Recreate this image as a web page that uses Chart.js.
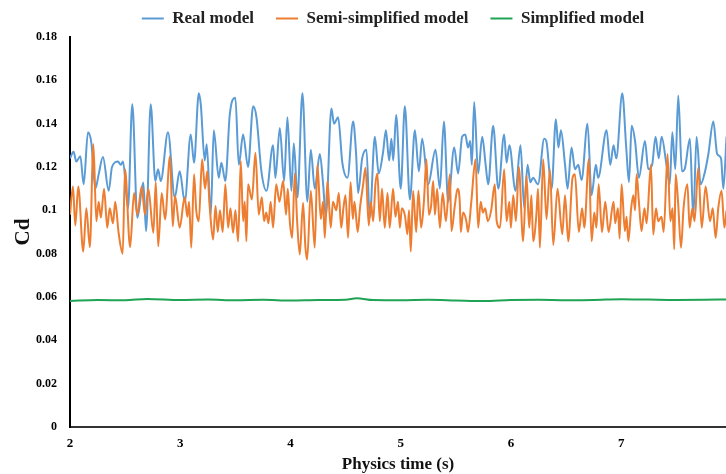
<!DOCTYPE html>
<html>
<head>
<meta charset="utf-8">
<script src="https://cdn.jsdelivr.net/npm/chart.js@4"></script>
<style>
  body { margin: 0; background: #fff; }
</style>
</head>
<body>
<canvas id="chart" width="726" height="474"></canvas>
<script>
const seriesNames = ["Real model", "Semi-simplified model", "Simplified model"];

const xTicks = [2, 3, 4, 5, 6, 7];
const yTicks = [0, 0.02, 0.04, 0.06, 0.08, 0.1, 0.12, 0.14, 0.16, 0.18];
const yTickLabels = ["0", "0.02", "0.04", "0.06", "0.08", "0.1", "0.12", "0.14", "0.16", "0.18"];

// Real model
const realTime = [
  2.000, 2.033, 2.057, 2.094, 2.124, 2.163, 2.194, 2.230, 2.260, 2.299,
  2.351, 2.381, 2.436, 2.460, 2.481, 2.526, 2.565, 2.611, 2.665, 2.690,
  2.732, 2.774, 2.799, 2.823, 2.889, 2.950, 2.995, 3.041, 3.095, 3.125,
  3.168, 3.186, 3.222, 3.240, 3.277, 3.304, 3.349, 3.373, 3.409, 3.449,
  3.500, 3.531, 3.570, 3.615, 3.661, 3.691, 3.736, 3.782, 3.842, 3.863,
  3.903, 3.942, 3.972, 4.008, 4.030, 4.063, 4.108, 4.153, 4.184, 4.220,
  4.266, 4.296, 4.320, 4.371, 4.395, 4.432, 4.470, 4.517, 4.568, 4.595,
  4.613, 4.650, 4.689, 4.719, 4.765, 4.800, 4.840, 4.865, 4.895, 4.915,
  4.932, 4.958, 5.000, 5.037, 5.083, 5.128, 5.164, 5.194, 5.249, 5.315,
  5.355, 5.391, 5.430, 5.485, 5.520, 5.557, 5.585, 5.610, 5.630, 5.645,
  5.666, 5.702, 5.739, 5.770, 5.793, 5.838, 5.885, 5.938, 5.960, 5.985,
  6.041, 6.086, 6.120, 6.150, 6.175, 6.200, 6.245, 6.301, 6.320, 6.368,
  6.407, 6.430, 6.453, 6.490, 6.513, 6.549, 6.580, 6.610, 6.640, 6.694,
  6.731, 6.770, 6.790, 6.867, 6.900, 6.930, 6.955, 7.009, 7.045, 7.070,
  7.094, 7.125, 7.160, 7.215, 7.245, 7.280, 7.311, 7.340, 7.366, 7.410,
  7.440, 7.463, 7.490, 7.517, 7.550, 7.575, 7.623, 7.653, 7.683, 7.720,
  7.760, 7.790, 7.835, 7.870, 7.905, 7.926, 7.955
];
const realCd = [
  0.124, 0.127, 0.1225, 0.125, 0.112, 0.136, 0.131, 0.110, 0.1166, 0.1246,
  0.109, 0.120, 0.1225, 0.121, 0.1225, 0.101, 0.149, 0.0966, 0.1128, 0.0904,
  0.149, 0.1135, 0.119, 0.1135, 0.136, 0.106, 0.118, 0.104, 0.135, 0.122,
  0.154, 0.149, 0.123, 0.1305, 0.098, 0.137, 0.115, 0.122, 0.1135, 0.144,
  0.152, 0.121, 0.135, 0.120, 0.148, 0.143, 0.118, 0.109, 0.130, 0.115,
  0.138, 0.1135, 0.143, 0.109, 0.131, 0.106, 0.154, 0.104, 0.128, 0.110,
  0.126, 0.112, 0.097, 0.147, 0.140, 0.143, 0.122, 0.115, 0.141, 0.126,
  0.108, 0.124, 0.128, 0.0966, 0.134, 0.117, 0.127, 0.137, 0.123, 0.133,
  0.123, 0.144, 0.110, 0.148, 0.105, 0.137, 0.118, 0.133, 0.112, 0.128,
  0.110, 0.141, 0.104, 0.129, 0.117, 0.134, 0.135, 0.129, 0.132, 0.121,
  0.150, 0.117, 0.134, 0.121, 0.112, 0.139, 0.110, 0.135, 0.122, 0.130,
  0.109, 0.130, 0.101, 0.121, 0.113, 0.115, 0.112, 0.133, 0.132, 0.110,
  0.142, 0.129, 0.137, 0.121, 0.110, 0.129, 0.119, 0.121, 0.114, 0.140,
  0.107, 0.121, 0.115, 0.137, 0.121, 0.130, 0.124, 0.154, 0.129, 0.113,
  0.139, 0.132, 0.115, 0.132, 0.119, 0.121, 0.134, 0.124, 0.134, 0.121,
  0.112, 0.136, 0.119, 0.153, 0.118, 0.119, 0.133, 0.0966, 0.134, 0.112,
  0.118, 0.126, 0.141, 0.126, 0.124, 0.110, 0.134
];

// Semi-simplified model
const semiTime = [
  2.000, 2.027, 2.048, 2.075, 2.120, 2.148, 2.180, 2.212, 2.239, 2.260,
  2.280, 2.309, 2.338, 2.360, 2.390, 2.410, 2.440, 2.478, 2.499, 2.545,
  2.581, 2.611, 2.650, 2.680, 2.711, 2.756, 2.778, 2.800, 2.832, 2.862,
  2.907, 2.932, 2.953, 2.995, 3.040, 3.065, 3.080, 3.100, 3.125, 3.145,
  3.168, 3.198, 3.225, 3.245, 3.268, 3.298, 3.320, 3.340, 3.360, 3.385,
  3.409, 3.434, 3.455, 3.479, 3.500, 3.525, 3.549, 3.570, 3.585, 3.600,
  3.615, 3.650, 3.682, 3.712, 3.740, 3.760, 3.780, 3.800, 3.820, 3.842,
  3.870, 3.900, 3.933, 3.960, 3.975, 3.995, 4.015, 4.039, 4.060, 4.084,
  4.114, 4.135, 4.151, 4.184, 4.220, 4.244, 4.275, 4.295, 4.311, 4.335,
  4.365, 4.385, 4.415, 4.438, 4.460, 4.480, 4.499, 4.522, 4.545, 4.565,
  4.580, 4.610, 4.630, 4.659, 4.680, 4.710, 4.728, 4.750, 4.770, 4.788,
  4.810, 4.830, 4.855, 4.880, 4.900, 4.930, 4.952, 4.975, 4.992, 5.010,
  5.040, 5.060, 5.075, 5.091, 5.112, 5.140, 5.160, 5.185, 5.210, 5.233,
  5.255, 5.275, 5.294, 5.310, 5.330, 5.355, 5.380, 5.410, 5.445, 5.460,
  5.490, 5.515, 5.535, 5.545, 5.565, 5.595, 5.610, 5.640, 5.678, 5.702,
  5.725, 5.745, 5.765, 5.790, 5.820, 5.853, 5.870, 5.900, 5.938, 5.960,
  5.985, 5.999, 6.020, 6.045, 6.071, 6.110, 6.140, 6.165, 6.185, 6.201,
  6.230, 6.245, 6.262, 6.292, 6.322, 6.353, 6.383, 6.422, 6.465, 6.490,
  6.519, 6.558, 6.580, 6.615, 6.645, 6.665, 6.706, 6.731, 6.755, 6.775,
  6.795, 6.825, 6.855, 6.885, 6.930, 6.945, 6.970, 6.985, 7.003, 7.033,
  7.048, 7.064, 7.090, 7.109, 7.125, 7.139, 7.160, 7.184, 7.210, 7.230,
  7.269, 7.290, 7.315, 7.335, 7.365, 7.385, 7.420, 7.445, 7.465, 7.481,
  7.493, 7.515, 7.542, 7.565, 7.600, 7.620, 7.645, 7.665, 7.698, 7.730,
  7.765, 7.805, 7.830, 7.856, 7.880, 7.910, 7.935, 7.955
];
const semiCd = [
  0.098, 0.111, 0.093, 0.111, 0.081, 0.101, 0.083, 0.1305, 0.095, 0.104,
  0.0966, 0.110, 0.092, 0.101, 0.094, 0.104, 0.090, 0.080, 0.119, 0.083,
  0.108, 0.098, 0.111, 0.098, 0.110, 0.0896, 0.113, 0.0834, 0.108, 0.0958,
  0.125, 0.0927, 0.1066, 0.092, 0.106, 0.097, 0.104, 0.0827, 0.1166, 0.100,
  0.095, 0.1236, 0.110, 0.118, 0.101, 0.0865, 0.102, 0.090, 0.100, 0.090,
  0.112, 0.092, 0.101, 0.0896, 0.100, 0.0857, 0.1228, 0.095, 0.104, 0.0857,
  0.112, 0.105, 0.1266, 0.098, 0.106, 0.095, 0.099, 0.094, 0.104, 0.092,
  0.112, 0.104, 0.1135, 0.098, 0.110, 0.094, 0.0873, 0.117, 0.095, 0.0796,
  0.1035, 0.083, 0.0773, 0.109, 0.0827, 0.121, 0.096, 0.104, 0.0873, 0.1135,
  0.092, 0.104, 0.100, 0.108, 0.092, 0.101, 0.107, 0.0873, 0.113, 0.096,
  0.104, 0.090, 0.101, 0.112, 0.1197, 0.093, 0.104, 0.095, 0.112, 0.117,
  0.095, 0.110, 0.092, 0.108, 0.092, 0.110, 0.097, 0.104, 0.092, 0.101,
  0.097, 0.089, 0.100, 0.081, 0.109, 0.090, 0.109, 0.092, 0.104, 0.1236,
  0.098, 0.102, 0.1135, 0.098, 0.110, 0.092, 0.108, 0.095, 0.1166, 0.0904,
  0.102, 0.110, 0.104, 0.090, 0.099, 0.095, 0.090, 0.104, 0.1236, 0.092,
  0.104, 0.099, 0.101, 0.095, 0.100, 0.112, 0.095, 0.092, 0.119, 0.095,
  0.104, 0.092, 0.107, 0.095, 0.120, 0.0857, 0.116, 0.092, 0.107, 0.0857,
  0.098, 0.110, 0.0827, 0.1236, 0.096, 0.119, 0.084, 0.110, 0.089, 0.107,
  0.0857, 0.115, 0.1166, 0.090, 0.101, 0.092, 0.1236, 0.0857, 0.099, 0.092,
  0.112, 0.090, 0.104, 0.090, 0.104, 0.094, 0.101, 0.087, 0.112, 0.0904,
  0.097, 0.0857, 0.101, 0.107, 0.100, 0.1166, 0.104, 0.0904, 0.101, 0.094,
  0.121, 0.0888, 0.101, 0.095, 0.097, 0.090, 0.126, 0.095, 0.101, 0.082,
  0.1166, 0.104, 0.0827, 0.101, 0.112, 0.092, 0.101, 0.095, 0.1197, 0.092,
  0.111, 0.095, 0.101, 0.0873, 0.101, 0.109, 0.092, 0.100
];

// Simplified model
const simpTime = [2.0, 2.25, 2.5, 2.7, 3.0, 3.25, 3.5, 3.75, 4.0, 4.25, 4.5, 4.6, 4.75,
  5.0, 5.25, 5.5, 5.75, 6.0, 6.25, 6.5, 6.75, 7.0, 7.25, 7.5, 7.75, 7.95];
const simpCd = [0.0582, 0.0586, 0.0585, 0.0591, 0.0586, 0.0588, 0.0585, 0.0587, 0.0584, 0.0586, 0.0587, 0.0594, 0.0586,
  0.0585, 0.0587, 0.0584, 0.0581, 0.0586, 0.0587, 0.0585, 0.0586, 0.0590, 0.0588, 0.0586, 0.0587, 0.0589];

const toPoints = (ts, vs) => ts.map((t, i) => ({ x: t, y: vs[i] }));

const serif = "'Liberation Serif', 'Times New Roman', serif";

// nudge the legend to sit over the plot area like the original
const legendShift = {
  id: "legendShift",
  afterLayout(chart) {
    chart.legend.left += 30;
    chart.legend.right += 30;
  }
};

const ctx = document.getElementById("chart").getContext("2d");
new Chart(ctx, {
  type: "line",
  data: {
    datasets: [
      {
        label: seriesNames[0],
        data: toPoints(realTime, realCd),
        borderColor: "#5B9BD5",
        backgroundColor: "#5B9BD5",
        borderWidth: 2,
        order: 3,
      },
      {
        label: seriesNames[1],
        data: toPoints(semiTime, semiCd),
        borderColor: "#ED7D31",
        backgroundColor: "#ED7D31",
        borderWidth: 2,
        order: 2,
      },
      {
        label: seriesNames[2],
        data: toPoints(simpTime, simpCd),
        borderColor: "#1FA354",
        backgroundColor: "#1FA354",
        borderWidth: 2,
        order: 1,
      },
    ],
  },
  options: {
    responsive: false,
    animation: false,
    devicePixelRatio: 1,
    elements: {
      point: { radius: 0 },
      line: { cubicInterpolationMode: "monotone", fill: false },
    },
    layout: { padding: { top: -12, right: 0, bottom: 0, left: 0 } },
    plugins: {
      tooltip: { enabled: false },
      legend: {
        position: "top",
        maxHeight: 50,
        labels: {
          usePointStyle: true,
          pointStyle: "line",
          pointStyleWidth: 22,
          padding: 22,
          color: "#222",
          font: { family: serif, size: 17, weight: "bold" },
          sort: (a, b) => a.datasetIndex - b.datasetIndex,
        },
      },
    },
    scales: {
      x: {
        type: "linear",
        min: 2,
        max: 7.95,
        afterBuildTicks: (axis) => {
          axis.ticks = xTicks.map((v) => ({ value: v }));
        },
        afterFit: (scale) => {
          scale.height = 47;
        },
        ticks: {
          color: "#000",
          padding: 1,
          maxRotation: 0,
          font: { family: serif, size: 13, weight: "bold" },
        },
        grid: { display: false },
        border: { display: true, color: "#333", width: 2 },
        title: {
          display: true,
          text: "Physics time (s)",
          color: "#111",
          padding: { top: 0, bottom: 0 },
          font: { family: serif, size: 17, weight: "bold", lineHeight: 1.1 },
        },
      },
      y: {
        min: 0,
        max: 0.18,
        afterBuildTicks: (axis) => {
          axis.ticks = yTicks.map((v) => ({ value: v }));
        },
        afterFit: (scale) => {
          scale.width = 70;
        },
        ticks: {
          color: "#000",
          padding: 5,
          font: { family: serif, size: 12, weight: "bold" },
          callback: (value, index) => yTickLabels[index],
        },
        grid: { display: false },
        border: { display: true, color: "#000", width: 2 },
        title: {
          display: true,
          text: "Cd",
          color: "#111",
          padding: { top: 11, bottom: 0 },
          font: { family: serif, size: 21, weight: "bold" },
        },
      },
    },
  },
  plugins: [legendShift],
});
</script>
</body>
</html>
